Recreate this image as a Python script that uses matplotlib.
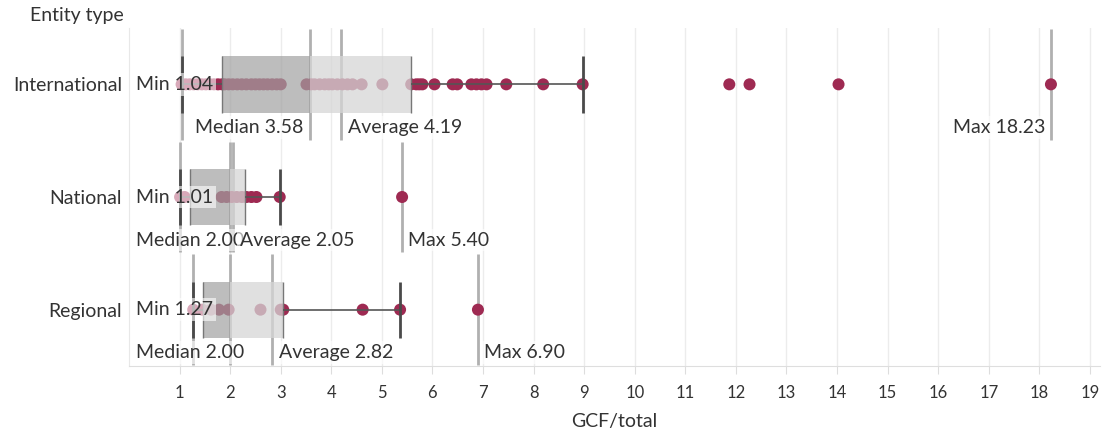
import matplotlib.pyplot as plt

plt.rcParams['font.family'] = ['Lato', 'DejaVu Sans']

# ---------------------------
# Data
# ---------------------------
categories = ['International', 'National', 'Regional']
mins = [1.04, 1.01, 1.27]
q1s = [1.83, 1.20, 1.47]
medians = [3.58, 2.00, 2.00]
q3s = [5.58, 2.30, 3.04]
upper_whiskers = [8.97, 2.98, 5.36]
averages = [4.19, 2.05, 2.82]
maxs = [18.23, 5.40, 6.90]

intl_points = [1.04, 1.12, 1.20, 1.28, 1.36, 1.44, 1.52, 1.60, 1.68, 1.76,
               1.84, 1.89, 1.97, 2.05, 2.14, 2.23, 2.32, 2.42, 2.50, 2.58,
               2.66, 2.74, 2.83, 2.92, 3.00, 3.51, 3.60, 3.67, 3.77, 3.87,
               3.95, 4.02, 4.12, 4.22, 4.32, 4.42, 4.60, 5.01, 5.58, 5.68,
               5.74, 5.80, 6.04, 6.40, 6.49, 6.77, 6.87, 6.97, 7.07, 7.46,
               8.19, 8.97, 11.87, 12.27, 14.03, 18.23]
national_points = [1.01, 1.10, 1.83, 1.93, 2.03, 2.13, 2.23, 2.32, 2.42, 2.52,
                   2.98, 5.40]
regional_points = [1.27, 1.45, 1.62, 1.78, 1.97, 2.60, 3.00, 3.05, 4.62, 5.36,
                   6.90]
points = [intl_points, national_points, regional_points]

x_ticks = list(range(1, 20))

CRIMSON = '#9e2a52'
TEXT = '#333333'
FS = 14

fig = plt.figure(figsize=(11.09, 4.34), dpi=100)
ax = fig.add_axes([129 / 1109, 68 / 434, (1100 - 129) / 1109, 338 / 434])
ax.set_xlim(0, 19.2)
ax.set_ylim(2.5, -0.5)

ax.set_xticks(x_ticks)
ax.grid(axis='x', color='#ececec', lw=1)
ax.set_axisbelow(True)
for s in ['top', 'right']:
    ax.spines[s].set_visible(False)
ax.spines['left'].set_color('#e8e8e8')
ax.spines['bottom'].set_color('#dedede')
ax.tick_params(axis='x', length=6, color='#dddddd', labelsize=12,
               labelcolor=TEXT, pad=8)
ax.set_yticks(range(len(categories)), categories)
ax.tick_params(axis='y', length=0, labelsize=FS, labelcolor=TEXT, pad=5)
ax.set_xlabel('GCF/total', fontsize=FS, color=TEXT, labelpad=8)
fig.text(124 / 1109, 1 - 16 / 434, 'Entity type', ha='right', va='center',
         fontsize=FS, color=TEXT)

box_h = 0.25
lbl_box = dict(boxstyle='square,pad=0.15', fc='white', ec='none', alpha=0.6)
median_labels, max_labels = [], []

for i, cat in enumerate(categories):
    # reference lines
    ax.vlines([mins[i], medians[i], averages[i], maxs[i]], i - 0.49, i + 0.49,
              color='#b0b0b0', lw=2, zorder=2)
    # points
    ax.scatter(points[i], [i] * len(points[i]), s=75, color=CRIMSON,
               edgecolors='none', zorder=3)
    # box
    ax.fill_betweenx([i - box_h, i + box_h], q1s[i], medians[i],
                     color=(0.63, 0.63, 0.63), alpha=0.7, lw=0, zorder=4)
    ax.fill_betweenx([i - box_h, i + box_h], medians[i], q3s[i],
                     color=(0.84, 0.84, 0.84), alpha=0.75, lw=0, zorder=4)
    ax.vlines([q1s[i], q3s[i]], i - box_h, i + box_h, color='#777777', lw=1,
              zorder=5)
    # whiskers
    ax.hlines(i, q3s[i], upper_whiskers[i], color='#555555', lw=1.2, zorder=5)
    ax.hlines(i, mins[i], q1s[i], color='#555555', lw=1.2, zorder=5)
    ax.vlines([mins[i], upper_whiskers[i]], i - box_h, i + box_h,
              color='#4a4a4a', lw=2, zorder=5)

    # labels
    ax.annotate(f'Min {mins[i]:.2f}', xy=(0, i),
                xycoords=ax.get_yaxis_transform(), xytext=(5, 0),
                textcoords='offset points', ha='left', va='center',
                fontsize=FS, color=TEXT, bbox=lbl_box, zorder=6)
    median_labels.append(ax.annotate(
        f'Median {medians[i]:.2f}', xy=(medians[i], i), xytext=(-5, -31),
        textcoords='offset points', ha='right', va='center', fontsize=FS,
        color=TEXT, bbox=lbl_box, zorder=6))
    ax.annotate(f'Average {averages[i]:.2f}', xy=(averages[i], i),
                xytext=(5, -31), textcoords='offset points', ha='left',
                va='center', fontsize=FS, color=TEXT, bbox=lbl_box, zorder=6)
    max_labels.append(ax.annotate(
        f'Max {maxs[i]:.2f}', xy=(maxs[i], i), xytext=(4, -31),
        textcoords='offset points', ha='left', va='center', fontsize=FS,
        color=TEXT, bbox=lbl_box, zorder=6))

# keep labels inside the pane
fig.canvas.draw()
renderer = fig.canvas.get_renderer()
pane = ax.get_window_extent(renderer)
for t in median_labels:
    if t.get_window_extent(renderer).x0 < pane.x0 + 7:
        t.xycoords = ax.get_yaxis_transform()
        t.xy = (0, t.xy[1])
        t.set_position((5, -31))
        t.set_ha('left')
for t in max_labels:
    if t.get_window_extent(renderer).x1 > pane.x1:
        t.set_position((-4, -31))
        t.set_ha('right')

fig.savefig('out.png', dpi=100)
